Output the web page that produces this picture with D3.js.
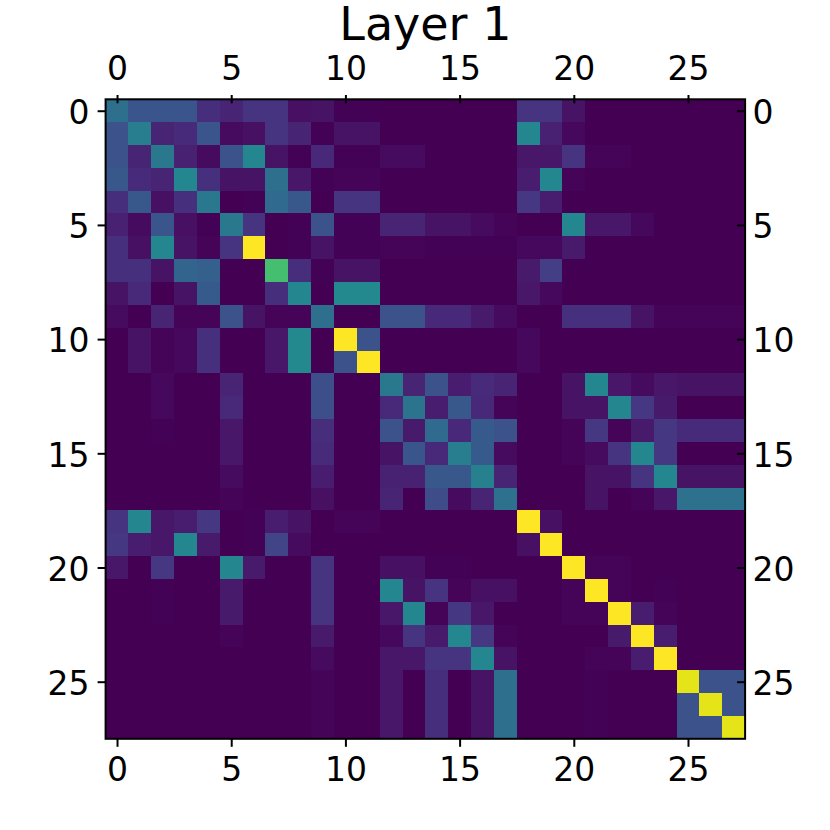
<!DOCTYPE html>
<html>
<head>
<meta charset="utf-8">
<script src="https://cdn.jsdelivr.net/npm/d3@7"></script>
<style>
html,body{margin:0;padding:0;background:#fff}
svg{display:block}
text{font-family:"DejaVu Sans",sans-serif;fill:#000}
</style>
</head>
<body>
<div id="chart"></div>
<script>
const chartTitle = "Layer 1";
const tickValues = [0, 5, 10, 15, 20, 25];
const matrix = [
[36,26,26,26,13,10,15,15,4,5,0.5,0.5,0,0,0,0,0,0,15,15,5,0,0,0,0,0,0,0],
[25,42,10,12,26,3,4,15,10,0.5,5,5,0,0,0,0,0,0,46,9,2,0,0,0,0,0,0,0],
[25,10,40,9,3,25,46,5,0.5,11,0.5,0.5,3,3,0,0,0,0,6,6,15,1,1,0,0,0,0,0],
[27,12,10,46,14,5,5,36,6,0.5,1,1,0,0,0,0,0,0,8,46,1,0,0,0,0,0,0,0],
[13,27,4,14,40,0,0.5,34,27,0,15,15,0,0,0,0,0,0,16,8,0,0,0,0,0,0,0,0],
[9,3,26,4,0.5,40,15,0,0.5,25,0.5,0.5,10,10,5,5,3,1,0,0,46,6,6,2,0,0,0,0],
[14,4,46,5,1,15,100,0,0.5,5,0.5,0.5,1,1,0.5,0.5,0.5,0.5,2,2,7,0,0,0,0,0,0,0],
[14,14,5,32,30,0,0,70,13,0.5,5,5,0,0,0,0,0,0,7,18,0,0,0,0,0,0,0,0],
[5,11,0,5,28,0,0,13,46,0,47,47,0,0,0,0,0,0,6,2,0,0,0,0,0,0,0,0],
[3,0,10,1,1,25,5,1,1,36,0,0,25,25,11,11,7,3,0,0,14,14,14,5,1,1,1,1],
[0,5,1,2,14,0,0,6,47,0,100,25,0,0,0,0,0,0,2,0,0,0,0,0,0,0,0,0],
[0,5,1,2,14,0,0,6,47,0,25,100,0,0,0,0,0,0,2,0,0,0,0,0,0,0,0,0],
[0,0,2,0,0,10,0,0,0,24,0,0,40,10,25,8,12,10,0,0,5,46,6,3,6,5,5,5],
[0,0,2,0,0,11,0,0,0,24,0,0,11,38,8,27,11,1,0,0,5,5,46,16,7,0,0,0],
[0,0,0.5,0,0,6,0,0,0,13,0,0,25,7,34,11,28,25,0,0,1,16,1,7,16,12,12,12],
[0,0,0,0,0,6,0,0,0,12,0,0,5,26,11,42,28,3,0,0,1,3,15,46,16,0,0,0],
[0,0,0,0,0,3,0,0,0,8,0,0,9,9,27,27,43,10,0,0,0,5,5,15,46,5,5,5],
[0,0,0,0,0,1,0,0,0,4,0,0,10,0,23,3,10,37,0,0,0,5,0,1,6,37,37,37],
[15,46,6,8,16,0,0.5,8,5,0,1,1,0,0,0,0,0,0,100,4,0,0,0,0,0,0,0,0],
[16,8,6,46,7,0,0.5,20,3,0,0,0,0,0,0,0,0,0,4,100,0,0,0,0,0,0,0,0],
[6,0,16,0,0,46,7,0,0,15,0,0,4,4,0.5,0.5,0,0,0,0,100,1,1,0,0,0,0,0],
[0,0,0.5,0,0,7,0,0,0,15,0,0,46,5,15,1,4,4,0,0,1,100,1,0,0.5,0,0,0],
[0,0,0.5,0,0,7,0,0,0,15,0,0,6,46,1,16,6,0,0,0,1,1,100,8,1,0,0,0],
[0,0,0,0,0,1,0,0,0,7,0,0,2,15,7,46,16,1,0,0,0,0,7,100,8,0,0,0],
[0,0,0,0,0,0,0,0,0,3,0,0,6,6,15,15,46,5,0,0,0,1,1,8,100,0,0,0],
[0,0,0,0,0,0,0,0,0,1,0,0,6,0,13,0,5,36,0,0,0,0.5,0,0,0,96,25,25],
[0,0,0,0,0,0,0,0,0,1,0,0,6,0,13,0,5,36,0,0,0,0.5,0,0,0,25,96,25],
[0,0,0,0,0,0,0,0,0,1,0,0,6,0,13,0,5,36,0,0,0,0.5,0,0,0,25,25,96]
];

const W = 830, H = 830;
const left = 105.6, right = 745.1, top_ = 99.3, bottom = 738.8;
const n = matrix.length;
const x = d3.scaleLinear().domain([-0.5, n - 0.5]).range([left, right]);
const y = d3.scaleLinear().domain([-0.5, n - 0.5]).range([top_, bottom]);
const color = d3.scaleSequential(d3.interpolateViridis).domain([0, 100]);

const svg = d3.select("#chart").append("svg").attr("width", W).attr("height", H);

const cells = matrix.flatMap((row, r) => row.map((v, c) => ({r, c, v})));
svg.append("g").attr("shape-rendering", "crispEdges")
  .selectAll("rect").data(cells).join("rect")
  .attr("x", d => x(d.c - 0.5))
  .attr("y", d => y(d.r - 0.5))
  .attr("width", d => x(d.c + 0.5) - x(d.c - 0.5))
  .attr("height", d => y(d.r + 0.5) - y(d.r - 0.5))
  .attr("fill", d => color(d.v));

svg.append("rect")
  .attr("x", left).attr("y", top_)
  .attr("width", right - left).attr("height", bottom - top_)
  .attr("fill", "none").attr("stroke", "#000").attr("stroke-width", 2);

function styleAxis(g) {
  g.select(".domain").remove();
  g.selectAll(".tick line").attr("stroke", "#000").attr("stroke-width", 2);
  g.selectAll(".tick text").attr("font-size", 33).attr("font-family", "DejaVu Sans").attr("fill", "#000");
}
// Bottom axis: ticks outward
svg.append("g").attr("transform", `translate(0,${bottom})`)
  .call(d3.axisBottom(x).tickValues(tickValues).tickSize(8).tickPadding(10.8)).call(styleAxis);
// Top axis: ticks straddle the spine
svg.append("g").attr("transform", `translate(0,${top_})`)
  .call(d3.axisTop(x).tickValues(tickValues).tickSize(0).tickPadding(19.3)).call(styleAxis)
  .call(g => g.selectAll(".tick line").attr("y1", -4.3).attr("y2", 4));
// Left axis: ticks outward
svg.append("g").attr("transform", `translate(${left},0)`)
  .call(d3.axisLeft(y).tickValues(tickValues).tickSize(8).tickPadding(8)).call(styleAxis)
  .call(g => g.selectAll(".tick text").attr("dy", "0").attr("y", 12.8));
// Right axis: ticks inward
svg.append("g").attr("transform", `translate(${right},0)`)
  .call(d3.axisRight(y).tickValues(tickValues).tickSize(-8).tickPadding(7.5)).call(styleAxis)
  .call(g => g.selectAll(".tick text").attr("dy", "0").attr("y", 12.8));

svg.append("text").attr("x", (left + right) / 2).attr("y", 39.5)
  .attr("text-anchor", "middle").attr("font-size", 46).text(chartTitle);
</script>
</body>
</html>
